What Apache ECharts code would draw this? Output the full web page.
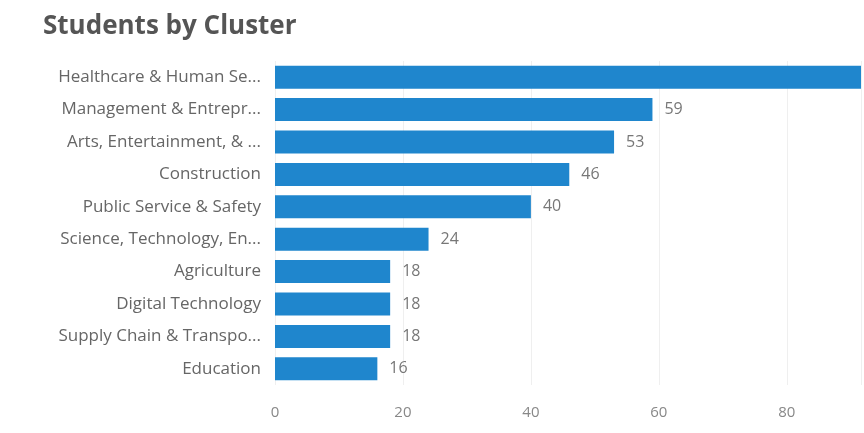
<!DOCTYPE html>
<html>
<head>
<meta charset="utf-8">
<script src="https://cdn.jsdelivr.net/npm/echarts@6/dist/echarts.min.js"></script>
<style>
  html, body { margin: 0; padding: 0; background: #fff; }
  #chart { width: 864px; height: 433px; }
</style>
</head>
<body>
<div id="chart"></div>
<script>
const clusters = [
    'Healthcare & Human Se...',
    'Management & Entrepr...',
    'Arts, Entertainment, & ...',
    'Construction',
    'Public Service & Safety',
    'Science, Technology, En...',
    'Agriculture',
    'Digital Technology',
    'Supply Chain & Transpo...',
    'Education'
];
const students = [92, 59, 53, 46, 40, 24, 18, 18, 18, 16];
const xTicks = [0, 20, 40, 60, 80];

const chart = echarts.init(document.getElementById('chart'));
const font = '"Open Sans", "Noto Sans", sans-serif';

const option = {
    animation: false,
    title: {
        text: 'Students by Cluster',
        left: 38,
        top: 9,
        textStyle: { fontFamily: font, fontSize: 26, fontWeight: 'bold', color: '#555' }
    },
    grid: { left: 275, right: 0, top: 61, bottom: 48, containLabel: false },
    xAxis: {
        type: 'value',
        min: 0,
        max: 91.6,
        interval: 20,
        axisLine: { show: false },
        axisTick: { show: false },
        splitLine: { lineStyle: { color: '#efefef' } },
        axisLabel: {
            fontFamily: font, fontSize: 15, color: '#888', margin: 20,
            formatter: v => xTicks.includes(v) ? String(v) : ''
        }
    },
    yAxis: {
        type: 'category',
        data: clusters,
        inverse: true,
        axisLine: { show: false },
        axisTick: { show: false },
        axisLabel: { fontFamily: font, fontSize: 17, color: '#666', margin: 14 }
    },
    series: [{
        type: 'bar',
        data: students,
        barWidth: 23,
        itemStyle: { color: '#1f86cd' },
        label: {
            show: true,
            position: 'right',
            distance: 12,
            fontFamily: font,
            fontSize: 16,
            color: '#777'
        }
    }]
};
chart.setOption(option);
</script>
</body>
</html>
